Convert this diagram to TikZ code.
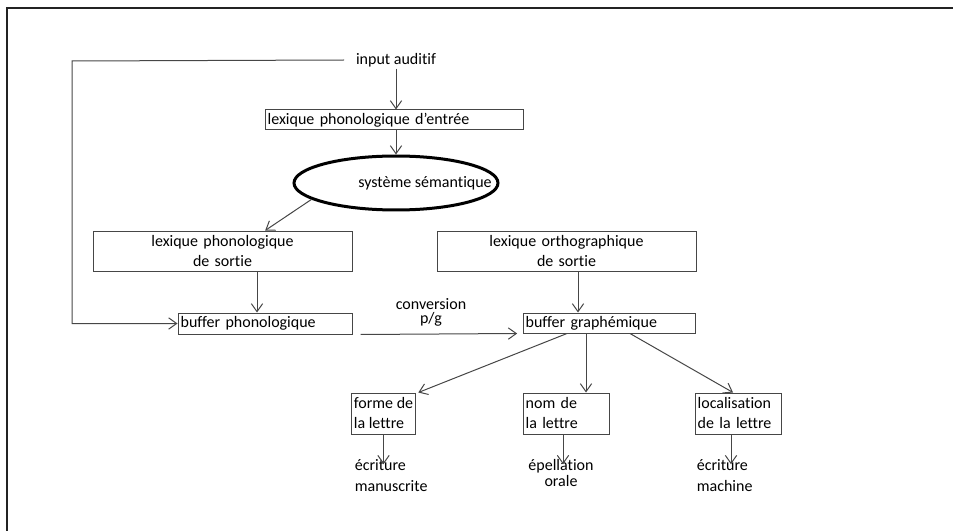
\documentclass[tikz,border=0pt]{standalone}
\usepackage{fontspec}
\setmainfont{Carlito}[Ligatures=NoCommon]
\usetikzlibrary{arrows.meta,shapes.geometric}

\definecolor{traitgris}{RGB}{70,70,70}
\definecolor{cadregris}{RGB}{35,35,35}

\tikzset{every picture/.style={line width=0.75pt}}
\tikzset{
	boite/.style={draw=traitgris, inner xsep=2pt, inner ysep=1pt, font=\fontsize{12}{15}\selectfont},
	texte/.style={inner sep=1pt, font=\fontsize{12}{15.75}\selectfont},
	fleche/.style={draw=traitgris, -{Straight Barb[length=6pt,width=8.5pt]}},
}

\begin{document}
\begin{tikzpicture}[x=0.75pt,y=0.75pt,yscale=-1,xscale=1]
	\useasboundingbox (0,0) rectangle (953,531);
	
	%Frame
	\draw [cadregris, line width=2pt] (7,531) -- (7,8) -- (953,8) ;
	
	% Text Node
	\node [texte] (input) at (396,60) {input auditif};
	%Shape: Rectangle
	\node [boite, minimum width=193.5pt, minimum height=15pt, text width=189.5pt, align=left] (entree) at (394,120) {lexique phonologique d'entrée};
	%Shape: Ellipse
	\node [ellipse, draw=black, line width=2.25pt, minimum width=153pt, minimum height=40.5pt] (sem) at (396,183) {};
	% Text Node
	\node [texte] (semtexte) at (425,183) {système sémantique};
	%Shape: Rectangle
	\node [boite, minimum width=194.25pt, minimum height=30pt, text width=190.25pt, align=center] (phon) at (222.5,251) {lexique phonologique\\de sortie};
	%Shape: Rectangle
	\node [boite, minimum width=194.25pt, minimum height=30pt, text width=190.25pt, align=center] (ortho) at (566.5,251) {lexique orthographique\\de sortie};
	%Shape: Rectangle
	\node [boite, minimum width=130.5pt, minimum height=15.75pt, text width=126.5pt, align=left] (bphon) at (265,323.5) {buffer phonologique};
	%Shape: Rectangle
	\node [boite, minimum width=129pt, minimum height=15pt, text width=125pt, align=left] (bgraph) at (609,323) {buffer graphémique};
	% Text Node
	\node [texte, align=center, font=\fontsize{12}{10.5}\selectfont] (conv) at (431,312) {conversion\\p/g};
	%Shape: Rectangle
	\node [boite, minimum width=47.25pt, minimum height=30.75pt, align=left] (forme) at (383.5,413.5) {forme de\\la lettre};
	%Shape: Rectangle
	\node [boite, minimum width=64.5pt, minimum height=30.75pt, text width=60.5pt, align=left] (nom) at (566,413.5) {nom de\\la lettre};
	%Shape: Rectangle
	\node [boite, minimum width=64.5pt, minimum height=30.75pt, text width=60.5pt, align=left] (loc) at (738,413.5) {localisation\\de la lettre};
	% Text Node
	\node [texte, anchor=west, align=left] (manu) at (353,475.5) {écriture\\manuscrite};
	% Text Node
	\node [texte, align=center, font=\fontsize{12}{12}\selectfont] (epel) at (561,473) {épellation\\orale};
	% Text Node
	\node [texte, anchor=west, align=left] (mach) at (695,475.5) {écriture\\machine};
	
	\coordinate (retour) at (72,61);
	
	%Straight Lines
	\draw [fleche] ([xshift=-7.5pt]input.west) -- (retour) |- (bphon.west) ;
	\draw [fleche] (input.south) -- (input |- entree.north) ;
	\draw [fleche] (sem |- entree.south) -- (sem.north) ;
	\draw [fleche] (sem.191) -- ([xshift=32pt]phon.north) ;
	\draw [fleche] ([xshift=-6pt]bphon.north |- phon.south) -- ([xshift=-6pt]bphon.north) ;
	\draw [fleche] ([xshift=-23.25pt]bgraph.north |- ortho.south) -- ([xshift=-23.25pt]bgraph.north) ;
	\draw [fleche] ([xshift=6pt]bphon.south east) -- ([xshift=-4pt]bgraph.south west) ;
	\draw [fleche] ([xshift=-31.5pt]bgraph.south) -- ([xshift=1.5pt]forme.north east) ;
	\draw [fleche] ([xshift=-17.25pt]bgraph.south) -- ([xshift=-17.25pt]bgraph.south |- nom.north) ;
	\draw [fleche] ([xshift=15.75pt]bgraph.south) -- ([xshift=-3.75pt]loc.north) ;
	\draw [fleche, shorten >=-5pt] (forme.south) -- (forme.south |- manu.north) ;
	\draw [fleche, shorten >=-5pt] ([xshift=-2.25pt]nom.south) -- ([xshift=-2.25pt]nom.south |- epel.north) ;
	\draw [fleche, shorten >=-5pt] ([xshift=-5.25pt]loc.south) -- ([xshift=-5.25pt]loc.south |- mach.north) ;
	
\end{tikzpicture}
\end{document}
